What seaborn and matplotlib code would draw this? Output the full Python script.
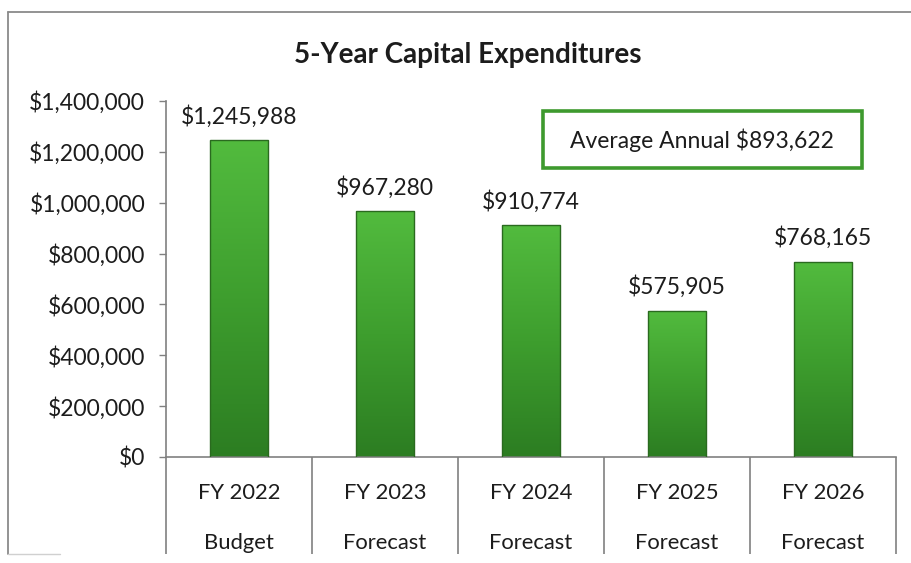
import numpy as np
import pandas as pd
import matplotlib
matplotlib.use("Agg")
import matplotlib.pyplot as plt
import seaborn as sns
from matplotlib.colors import LinearSegmentedColormap
from matplotlib.patches import Rectangle
from matplotlib.lines import Line2D

# Capital expenditure by fiscal year
years = ["FY 2022", "FY 2023", "FY 2024", "FY 2025", "FY 2026"]
stages = ["Budget", "Forecast", "Forecast", "Forecast", "Forecast"]
spend = [1245988, 967280, 910774, 575905, 768165]
y_ticks = [0, 200000, 400000, 600000, 800000, 1000000, 1200000, 1400000]

df = pd.DataFrame({"label": [f"{y}\n{s}" for y, s in zip(years, stages)],
                   "spend": spend})
average = float(np.mean(spend))

sns.set_theme(style="white")
plt.rcParams["font.family"] = ["Lato", "DejaVu Sans"]
TXT = "#1c1c1c"
FS = 16.5

W, H = 911, 563
fig = plt.figure(figsize=(W / 100, H / 100), dpi=100)
ax = fig.add_axes([166 / W, 1 - 457 / H, (896 - 166) / W, (457 - 101) / H])

sns.barplot(data=df, x="label", y="spend", ax=ax, width=0.4,
            color="#3f9f2f", edgecolor="#2a6a1f", linewidth=1.0,
            saturation=1)

# vertical shading inside each bar
cmap = LinearSegmentedColormap.from_list("g", ["#52bb3e", "#3e9e2e", "#2c7d22"])
grad = np.linspace(0, 1, 256).reshape(-1, 1)
for p in ax.patches:
    x0, y0 = p.get_x(), p.get_y()
    w, h = p.get_width(), p.get_height()
    im = ax.imshow(grad, cmap=cmap, aspect="auto",
                   extent=(x0, x0 + w, y0, y0 + h), origin="upper", zorder=2)
    im.set_clip_path(p)
    p.set_zorder(3)
    p.set_facecolor("none")

ax.set_xlim(-0.5, len(years) - 0.5)
ax.set_ylim(0, 1400000)
ax.set_yticks(y_ticks)
ax.set_yticklabels([f"${v:,.0f}" for v in y_ticks], fontsize=FS, color=TXT)
ax.tick_params(axis="y", direction="out", length=5, width=1, color="#808080",
               left=True, pad=10)

# category labels, with divider lines between categories
ax.tick_params(axis="x", which="major", length=0, pad=19, labelsize=15.8,
               labelcolor=TXT)
for t in ax.get_xticklabels():
    t.set_linespacing(2.85)
ax.set_xticks(np.arange(-0.5, len(years)), minor=True)
ax.tick_params(axis="x", which="minor", direction="out", length=70,
               width=1.2, color="#808080", bottom=True)
ax.set_xlabel("")
ax.set_ylabel("")

for side in ["top", "right"]:
    ax.spines[side].set_visible(False)
for side in ["left", "bottom"]:
    ax.spines[side].set_color("#808080")
    ax.spines[side].set_linewidth(1.2)

# value labels
for c in ax.containers:
    ax.bar_label(c, labels=[f"${v:,.0f}" for v in spend], padding=9,
                 fontsize=FS, color=TXT)

fig.text(468 / W, 1 - 55 / H, "5-Year Capital Expenditures", ha="center",
         va="center", fontsize=20, fontweight="bold", color=TXT)

# average annual box
fig.patches.append(Rectangle((543 / W, 1 - 168 / H), (862 - 543) / W, 57 / H,
                             transform=fig.transFigure, fill=False,
                             edgecolor="#3e9a2e", linewidth=2.6))
fig.text(702 / W, 1 - 140 / H, f"Average Annual ${average:,.0f}",
         ha="center", va="center", fontsize=FS, color=TXT)

# chart frame
fr = dict(transform=fig.transFigure, color="#8a8a8a", linewidth=1.3)
fig.lines.append(Line2D([8 / W, 8 / W], [1 - 554 / H, 1 - 12 / H], **fr))
fig.lines.append(Line2D([8 / W, 1.0], [1 - 12 / H, 1 - 12 / H], **fr))
fig.lines.append(Line2D([8 / W, 60 / W], [1 - 554 / H, 1 - 554 / H],
                        transform=fig.transFigure, color="#d0d0d0", linewidth=1))

fig.savefig("out.png", dpi=100, facecolor="white")
